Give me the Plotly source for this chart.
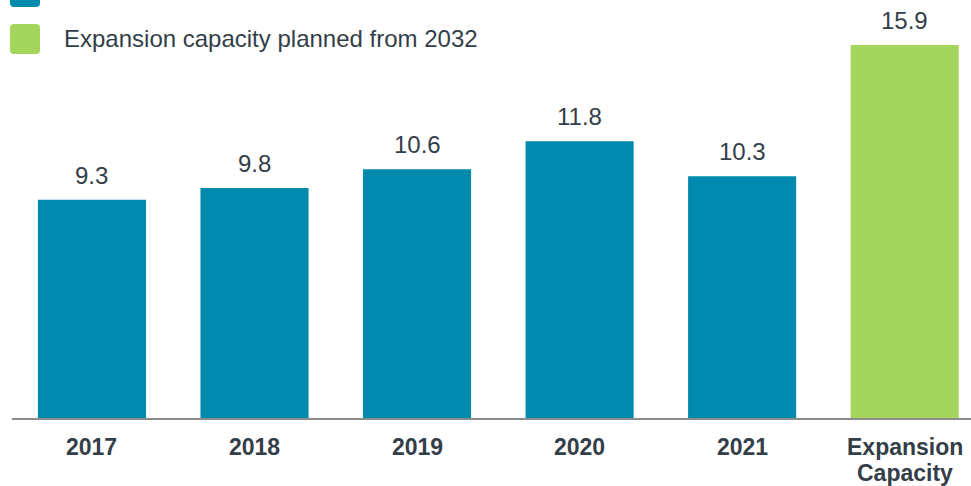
import plotly.graph_objects as go

# Annual values and the planned expansion capacity
categories = ["2017", "2018", "2019", "2020", "2021", "Expansion Capacity"]
values = [9.3, 9.8, 10.6, 11.8, 10.3, 15.9]
bar_colors = ["#008AAD"] * 5 + ["#A4D65E"]
legend_labels = ["Historical Production", "Expansion capacity planned from 2032"]
legend_colors = ["#008AAD", "#A4D65E"]

W, H = 971, 486
M_L, M_R, M_T, M_B = 12, 0, 0, 68
PLOT_W = W - M_L - M_R
PLOT_H = H - M_T - M_B
FONT = "Liberation Sans, Arial, sans-serif"
TEXT_COLOR = "#343E48"


def px_x(px):
    """Horizontal pixel position -> paper coordinate."""
    return (px - M_L) / PLOT_W


def px_y(py):
    """Vertical pixel position (from top) -> paper coordinate."""
    return 1 - (py - M_T) / PLOT_H


x_pos = list(range(len(categories)))

fig = go.Figure(
    go.Bar(
        x=x_pos,
        y=values,
        marker=dict(color=bar_colors, line=dict(width=0)),
        showlegend=False,
        hoverinfo="skip",
    )
)

# Value labels above each bar
for i, v in enumerate(values):
    fig.add_annotation(
        x=i, y=v, xref="x", yref="y",
        text=f"{v:.1f}", showarrow=False,
        yanchor="bottom", yshift=9,
        font=dict(family=FONT, size=24, color=TEXT_COLOR),
    )

# Category labels under the axis, multi-word labels wrapped one word per line
for i, cat in enumerate(categories):
    for k, word in enumerate(cat.split(" ")):
        fig.add_annotation(
            x=i, y=0, xref="x", yref="paper",
            text=f"<b>{word}</b>", showarrow=False,
            yanchor="middle", yshift=-29 - 26 * k,
            font=dict(family=FONT, size=23, color=TEXT_COLOR),
        )

# Legend: rounded swatches with labels
def rounded_square(half, r):
    return (
        f"M {-half + r},{-half} L {half - r},{-half} Q {half},{-half} {half},{-half + r} "
        f"L {half},{half - r} Q {half},{half} {half - r},{half} "
        f"L {-half + r},{half} Q {-half},{half} {-half},{half - r} "
        f"L {-half},{-half + r} Q {-half},{-half} {-half + r},{-half} Z"
    )

swatch_centers = [-8, 39]
text_centers = [-9, 39]
for label, color, sy, ty in zip(legend_labels, legend_colors, swatch_centers, text_centers):
    fig.add_shape(
        type="path", xref="paper", yref="paper",
        xsizemode="pixel", ysizemode="pixel",
        xanchor=px_x(25), yanchor=px_y(sy),
        path=rounded_square(15, 4),
        fillcolor=color, line=dict(width=0), layer="above",
    )
    fig.add_annotation(
        x=px_x(62), y=px_y(ty), xref="paper", yref="paper",
        text=label, showarrow=False, xanchor="left", yanchor="middle",
        font=dict(family=FONT, size=24, color=TEXT_COLOR),
    )

fig.update_layout(
    width=W, height=H,
    margin=dict(l=M_L, r=M_R, t=M_T, b=M_B, autoexpand=False),
    paper_bgcolor="white", plot_bgcolor="white",
    bargap=0.335,
    xaxis=dict(
        tickmode="array",
        tickvals=x_pos,
        range=[-0.492, 5.408],
        showgrid=False, zeroline=False,
        showline=True, linecolor="#8C8C8C", linewidth=2,
        ticks="", showticklabels=False,
    ),
    yaxis=dict(
        range=[0, PLOT_H / 23.46],
        visible=False, showgrid=False, zeroline=False,
    ),
)

fig.write_html("out.html")
